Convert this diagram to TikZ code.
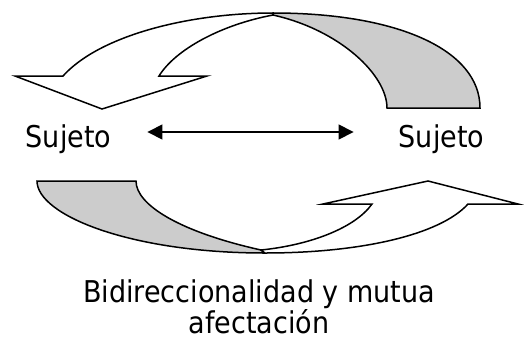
\documentclass[tikz,border=0pt]{standalone}
\usepackage{fontspec}
\setmainfont{DejaVu Sans}[FakeStretch=0.9]
\usetikzlibrary{arrows.meta}
\begin{document}
\begin{tikzpicture}[x=1pt,y=-1pt,
  band/.style={draw=black,line width=1.5pt,line join=miter},
  white band/.style={band,fill=white},
  shade band/.style={band,fill=black!20},
  lbl/.style={inner sep=0pt,font=\fontsize{30}{26}\selectfont},
  link/.style={line width=1.4pt,{Triangle[length=15pt,width=15pt]}-{Triangle[length=15pt,width=15pt]}}]
\useasboundingbox (0,0) rectangle (529,343);
% top curved arrow
\draw[white band] (273,13) .. controls (190,13) and (100,35) .. (63,76)
  -- (15,76) -- (102,109) -- (207,76) -- (159,76)
  .. controls (175,50) and (220,25) .. (273,15) -- cycle;
\draw[shade band] (273,13) .. controls (398,13) and (480,50) .. (480,108)
  -- (387,108) .. controls (387,75) and (340,30) .. (273,15) -- cycle;
% bottom curved arrow
\draw[shade band] (37,181) -- (136,181)
  .. controls (136,205) and (180,232) .. (261,250)
  -- (265,253) .. controls (130,253) and (37,215) .. (37,181) -- cycle;
\draw[white band] (265,253) .. controls (360,253) and (440,235) .. (468,204)
  -- (518,204) -- (428,181) -- (323,204) -- (372,204)
  .. controls (355,228) and (310,245) .. (261,250) -- cycle;
% labels
\node[lbl,anchor=base] (s1) at (68.5,147) {Sujeto};
\node[lbl,anchor=base] (s2) at (441.5,147) {Sujeto};
\node[lbl,anchor=north,align=center] (cap) at (259,279) {Bidireccionalidad y mutua\\afectación};
\draw[link] ([shift={(36pt,15pt)}]s1.base east) -- ([shift={(-45pt,15pt)}]s2.base west);
\end{tikzpicture}
\end{document}
